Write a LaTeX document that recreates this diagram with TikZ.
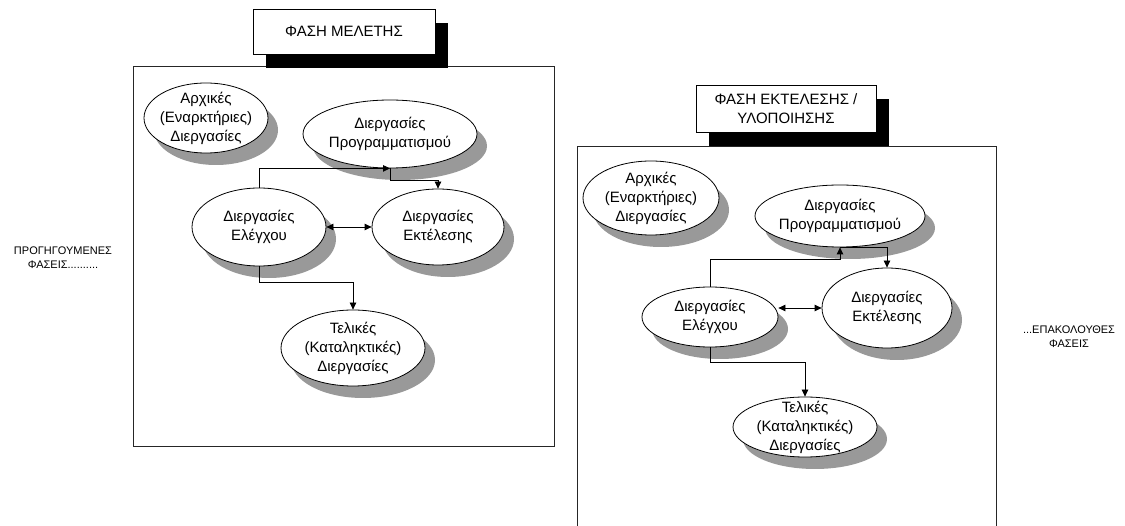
\documentclass[tikz,border=0pt]{standalone}
\usepackage{fontspec}
\setmainfont{Liberation Sans}
\usetikzlibrary{shapes.geometric,arrows.meta,shadows}
\begin{document}
\begin{tikzpicture}[x=1pt,y=-1pt,
  >={Triangle[length=7pt,width=6.5pt]},
  frame/.style={draw=black!85,line width=0.9pt},
  phasetitle/.style={rectangle,draw=black,fill=white,line width=0.8pt,inner sep=0pt,
    align=center,font=\fontsize{15}{19}\selectfont,
    general shadow={fill=black,shadow xshift=13pt,shadow yshift=-14pt}},
  proc/.style={ellipse,draw=black,line width=0.8pt,fill=white,inner sep=0pt,
    general shadow={fill=black!40,shadow xshift=10pt,shadow yshift=-12pt}},
  ptext/.style={align=center,font=\fontsize{15}{19}\selectfont,inner sep=0pt},
  side/.style={align=center,font=\fontsize{11}{14}\selectfont,inner sep=0pt},
  conn/.style={draw=black,line width=0.8pt}]
\fill[white] (0,0) rectangle (1125,526);
\clip (0,0) rectangle (1125,526);

% ---------- study phase ----------
\draw[frame] (133,66) rectangle (554,446);
\node[phasetitle,minimum width=182pt,minimum height=45pt] (t1) at (344,31.5) {ΦΑΣΗ ΜΕΛΕΤΗΣ};

\node[proc,minimum width=124pt,minimum height=70pt,
  label={[ptext]center:{Αρχικές\\(Εναρκτήριες)\\Διεργασίες}}] (a1) at (206,118) {};
\node[proc,minimum width=174pt,minimum height=68pt,
  label={[ptext]center:{Διεργασίες\\Προγραμματισμού}}] (p1) at (390,134) {};
\node[proc,minimum width=134pt,minimum height=78pt,
  label={[ptext]center:{Διεργασίες\\Ελέγχου}}] (e1) at (259,227) {};
\node[proc,minimum width=132pt,minimum height=76pt,
  label={[ptext]center:{Διεργασίες\\Εκτέλεσης}}] (x1) at (438,227) {};
\node[proc,minimum width=144pt,minimum height=76pt,
  label={[ptext]center:{Τελικές\\(Καταληκτικές)\\Διεργασίες}}] (f1) at (353,348) {};

\draw[conn,->] (e1.north) |- (p1.south);
\draw[conn,->] (p1.south) -- ++(0,12) -| (x1.north);
\draw[conn,<->] (e1.east) -- (x1.west);
\draw[conn,->] (e1.south) -- ++(0,16) -| (f1.north);

% ---------- execution phase ----------
\draw[frame] (577,146) rectangle (996,560);
\node[phasetitle,minimum width=180pt,minimum height=47pt] (t2) at (786,108.5)
  {ΦΑΣΗ ΕΚΤΕΛΕΣΗΣ /\\ΥΛΟΠΟΙΗΣΗΣ};

\node[proc,minimum width=136pt,minimum height=74pt,
  label={[ptext]center:{Αρχικές\\(Εναρκτήριες)\\Διεργασίες}}] (a2) at (651,198) {};
\node[proc,minimum width=170pt,minimum height=62pt,
  label={[ptext]center:{Διεργασίες\\Προγραμματισμού}}] (p2) at (840,216) {};
\node[proc,minimum width=136pt,minimum height=60pt,
  label={[ptext]center:{Διεργασίες\\Ελέγχου}}] (e2) at (710,317) {};
\node[proc,minimum width=130pt,minimum height=80pt,
  label={[ptext]center:{Διεργασίες\\Εκτέλεσης}}] (x2) at (887,308) {};
\node[proc,minimum width=144pt,minimum height=60pt,
  label={[ptext]center:{Τελικές\\(Καταληκτικές)\\Διεργασίες}}] (f2) at (805,427) {};

\draw[conn,->] (e2.north) -- ++(0,-27) -| (p2.south);
\draw[conn,->] (p2.south) -| (x2.north);
\draw[conn,<->] (e2.east |- x2.west) -- (x2.west);
\draw[conn,->] (e2.south) -- ++(0,15) -| (f2.north);

% ---------- neighbouring phases ----------
\node[side] (prev) at (63,258) {ΠΡΟΓΗΓΟΥΜΕΝΕΣ\\ΦΑΣΕΙΣ..........};
\node[side] (next) at (1069,337) {...ΕΠΑΚΟΛΟΥΘΕΣ\\ΦΑΣΕΙΣ};
\end{tikzpicture}
\end{document}
